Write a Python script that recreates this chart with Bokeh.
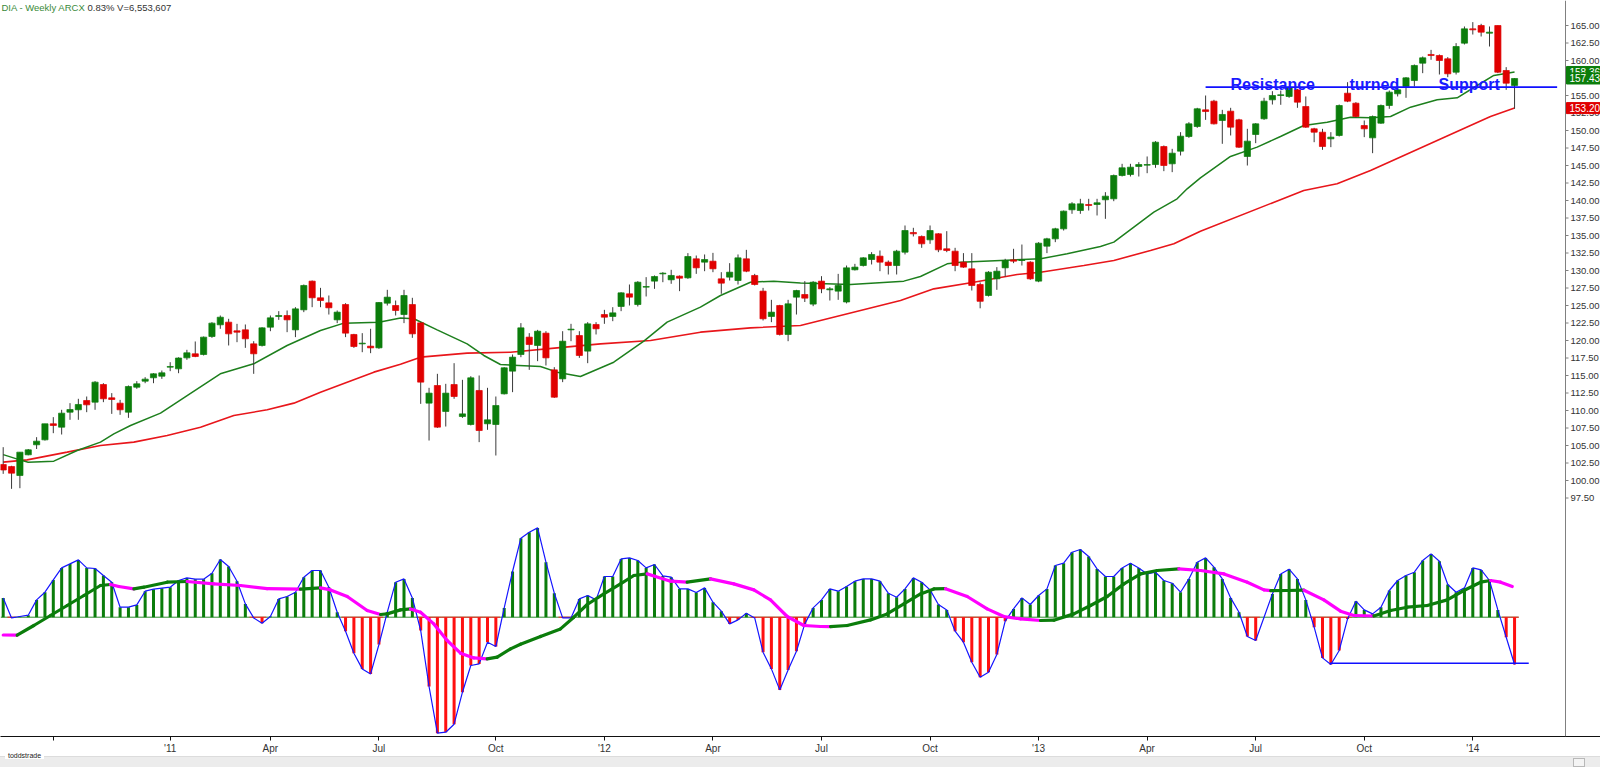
from bokeh.plotting import figure
from bokeh.layouts import column
from bokeh.models import Range1d, FixedTicker, ColumnDataSource, Span, Div
from bokeh.embed import file_html
from bokeh.resources import INLINE
from bokeh.core.properties import value

# ---------------- weekly DIA candles ----------------
opens = [102.29, 101.99, 100.71, 103.67, 105.1, 105.81, 108.1, 107.62, 109.76, 110.1,
         111.43, 111.19, 113.71, 111.81, 111.05, 109.76, 113.33, 114.19, 114.67, 114.9,
         116.19, 115.95, 117.52, 118.1, 118.0, 120.57, 122.24, 122.62, 121.38, 121.52,
         119.52, 119.29, 121.9, 123.43, 123.57, 121.52, 124.38, 128.48, 126.1, 125.38,
         122.95, 125.14, 120.86, 119.52, 119.19, 118.95, 125.33, 125.0, 123.71, 125.14,
         122.52, 111.05, 113.57, 109.86, 113.71, 109.14, 108.0, 112.86, 108.1, 108.0,
         112.38, 115.62, 118.0, 120.48, 119.29, 121.05, 115.81, 114.52, 121.52, 120.71,
         118.48, 122.29, 123.71, 123.43, 124.86, 126.67, 125.14, 127.62, 128.48, 129.52,
         128.67, 129.19, 128.95, 131.67, 131.19, 131.33, 128.81, 129.05, 128.57, 131.67,
         129.29, 127.05, 123.43, 125.0, 120.86, 126.19, 126.57, 125.2, 128.48, 127.24,
         127.05, 125.5, 130.1, 130.71, 131.57, 132.05, 131.19, 130.71, 132.62, 135.43,
         134.86, 134.38, 135.24, 133.1, 132.76, 131.19, 130.24, 128.0, 126.43, 128.81,
         130.38, 131.52, 131.43, 131.19, 128.48, 133.48, 134.52, 135.95, 138.67, 138.57,
         139.43, 139.43, 140.1, 140.24, 143.57, 143.71, 144.86, 145.05, 145.14, 147.71,
         145.24, 147.05, 149.14, 150.57, 152.95, 154.19, 151.43, 152.76, 151.52, 146.29,
         149.43, 151.67, 154.38, 155.0, 154.86, 155.81, 153.43, 150.24, 149.76, 148.81,
         149.29, 155.33, 153.9, 150.71, 148.95, 151.05, 153.57, 155.24, 156.29, 157.14,
         159.62, 160.86, 160.71, 160.24, 158.33, 162.48, 164.52, 165.0, 163.9, 165.0,
         158.57, 156.43]
highs = [104.76, 102.1, 104.05, 104.5, 106.19, 108.1, 109.05, 110.1, 111.05, 111.67,
         112.0, 114.2, 113.9, 112.48, 111.52, 113.57, 114.19, 114.76, 115.33, 115.71,
         116.9, 117.6, 118.67, 119.86, 120.57, 122.62, 123.57, 123.1, 122.38, 122.29,
         119.9, 121.9, 123.57, 124.19, 124.29, 124.76, 128.0, 128.57, 127.52, 126.43,
         124.29, 125.33, 120.95, 121.05, 121.67, 125.48, 127.24, 125.71, 127.24, 126.1,
         122.62, 113.24, 115.24, 113.81, 116.76, 114.38, 114.9, 115.0, 113.24, 112.0,
         116.19, 118.0, 122.48, 121.05, 121.52, 121.33, 116.19, 121.33, 122.38, 121.33,
         122.62, 122.62, 124.38, 124.76, 126.9, 128.0, 128.48, 129.05, 129.29, 129.76,
         130.1, 129.29, 132.48, 132.14, 132.29, 132.52, 129.76, 131.05, 132.29, 132.95,
         129.52, 127.52, 125.81, 125.1, 125.81, 127.24, 128.48, 128.48, 129.19, 127.62,
         129.52, 130.71, 130.95, 131.9, 132.62, 132.86, 131.43, 132.95, 136.43, 136.1,
         135.0, 136.43, 135.33, 135.62, 133.24, 132.48, 132.48, 128.3, 129.9, 130.48,
         131.67, 133.1, 133.71, 131.33, 134.05, 134.67, 136.1, 138.57, 139.76, 140.24,
         140.24, 140.24, 141.19, 143.71, 145.24, 145.24, 145.48, 146.29, 148.48, 147.86,
         147.38, 149.76, 151.19, 153.24, 155.0, 154.38, 152.95, 153.24, 151.67, 150.24,
         151.05, 154.67, 155.62, 155.71, 156.29, 155.95, 154.86, 150.38, 150.24, 149.76,
         153.71, 156.9, 154.05, 151.43, 152.14, 153.71, 155.71, 156.1, 157.62, 159.43,
         160.57, 161.52, 160.86, 160.48, 162.48, 164.86, 165.48, 165.24, 164.86, 165.0,
         159.05, 157.48]
lows = [100.95, 98.81, 98.9, 103.6, 104.5, 105.7, 106.76, 106.57, 108.67, 108.67,
        109.76, 110.1, 111.19, 109.52, 109.38, 108.95, 113.1, 113.9, 113.9, 114.52,
        115.62, 115.33, 117.24, 117.62, 117.86, 120.38, 121.67, 119.29, 119.76, 118.95,
        115.24, 119.14, 121.33, 122.95, 121.19, 120.48, 124.05, 124.76, 124.76, 123.71,
        122.48, 120.48, 118.95, 118.33, 118.19, 118.81, 125.0, 123.57, 122.48, 120.38,
        110.95, 105.71, 107.52, 107.71, 111.67, 108.95, 107.86, 105.48, 107.24, 103.57,
        112.29, 112.62, 117.62, 115.81, 117.05, 116.43, 111.81, 114.05, 119.9, 117.52,
        116.76, 120.86, 122.38, 122.76, 124.19, 125.0, 124.86, 126.29, 127.38, 128.33,
        128.1, 127.05, 128.81, 129.52, 129.9, 129.76, 126.67, 128.57, 128.0, 129.76,
        127.86, 122.86, 122.62, 120.71, 119.9, 123.71, 125.5, 124.9, 126.76, 125.71,
        125.81, 125.3, 130.0, 130.57, 130.86, 129.9, 129.43, 129.43, 132.29, 134.86,
        133.24, 133.81, 132.62, 132.62, 129.9, 130.38, 127.14, 124.6, 126.29, 127.24,
        129.14, 131.05, 130.71, 128.67, 128.33, 132.48, 134.05, 135.71, 138.1, 138.1,
        138.57, 137.86, 137.38, 139.9, 143.43, 143.43, 143.43, 143.9, 144.67, 144.19,
        144.05, 146.43, 148.95, 150.38, 151.52, 150.86, 148.1, 149.29, 147.52, 145.0,
        148.19, 151.52, 153.71, 153.67, 154.67, 153.24, 150.38, 148.33, 147.24, 147.62,
        149.14, 154.05, 151.81, 149.05, 146.76, 150.95, 153.1, 154.86, 154.67, 156.29,
        158.19, 160.1, 158.0, 157.62, 158.0, 162.29, 163.71, 163.43, 162.0, 158.19,
        155.81, 153.1]
closes = [101.5, 101.05, 104.05, 104.38, 105.62, 108.1, 107.86, 109.62, 110.14, 110.86,
          110.81, 114.05, 111.67, 111.57, 110.1, 113.43, 113.81, 114.48, 115.24, 115.38,
          116.29, 117.5, 118.24, 117.71, 120.48, 122.48, 123.33, 120.95, 121.19, 120.24,
          118.1, 121.81, 123.24, 123.57, 122.95, 124.52, 127.86, 126.1, 125.71, 124.67,
          124.05, 121.05, 119.14, 119.62, 118.95, 125.43, 126.19, 124.29, 126.43, 120.95,
          114.05, 112.48, 107.62, 112.48, 112.0, 109.52, 114.67, 107.14, 108.67, 110.71,
          116.1, 117.62, 121.81, 119.43, 121.33, 117.52, 111.9, 119.9, 121.62, 117.86,
          122.38, 121.67, 123.33, 123.95, 126.81, 126.19, 128.33, 127.71, 129.14, 129.62,
          129.29, 128.9, 132.0, 130.38, 131.57, 130.24, 128.19, 129.76, 131.81, 129.9,
          128.0, 123.1, 124.05, 120.86, 125.24, 127.14, 126.05, 128.33, 127.38, 127.38,
          127.86, 130.38, 130.48, 131.81, 132.29, 131.19, 130.71, 132.76, 135.71, 135.24,
          133.81, 135.71, 132.95, 132.86, 130.71, 130.48, 127.86, 125.6, 129.76, 129.9,
          131.43, 131.33, 131.52, 128.81, 133.9, 134.52, 135.95, 138.48, 139.52, 139.52,
          139.29, 139.67, 140.62, 143.57, 144.67, 144.76, 145.14, 145.14, 148.33, 145.0,
          146.76, 149.19, 150.95, 153.1, 152.71, 150.95, 152.29, 150.48, 147.62, 148.48,
          150.95, 154.19, 155.0, 155.1, 156.1, 154.05, 150.48, 149.76, 147.71, 149.05,
          153.57, 154.19, 152.0, 150.24, 152.0, 153.57, 155.48, 155.81, 157.52, 159.29,
          160.38, 160.71, 160.0, 158.1, 162.0, 164.52, 164.38, 164.05, 164.05, 158.33,
          156.76, 157.43]

# moving averages (vertices; x = week index)
ma20_x = [0.0, 1.99, 2.99, 6.06, 8.86, 11.65, 13.25, 15.25, 18.84, 22.03,
          26.0, 30.0, 34.0, 38.0, 40.8, 45.0, 47.58, 49.18, 51.97, 55.56,
          57.56, 59.55, 64.34, 66.34, 69.13, 73.12, 76.72, 79.51, 83.5, 85.9,
          89.49, 92.28, 95.48, 101.47, 107.86, 109.85, 113.05, 114.65, 119.44, 124.23,
          127.42, 131.41, 133.01, 137.8, 140.59, 141.79, 143.38, 146.98, 150.17, 152.97,
          155.76, 158.56, 161.35, 163.75, 166.15, 168.54, 171.73, 174.13, 176.52, 178.52,
          181.0]
ma20_v = [103.7, 102.95, 102.62, 102.76, 104.29, 105.48, 106.67, 107.86, 109.62, 112.14,
          115.24, 116.67, 119.29, 121.43, 122.48, 122.62, 123.2, 123.1, 121.52, 119.52,
          117.86, 116.57, 116.29, 115.48, 114.86, 116.9, 119.9, 122.62, 124.76, 126.43,
          128.33, 128.48, 128.2, 128.0, 128.48, 129.14, 130.95, 131.19, 131.43, 131.67,
          132.38, 133.43, 134.05, 138.33, 140.24, 141.67, 143.24, 146.29, 147.62, 149.14,
          150.71, 151.19, 151.9, 151.81, 152.0, 153.33, 154.38, 154.67, 156.43, 157.86,
          158.36]
ma50_x = [0.0, 2.87, 7.66, 11.65, 15.64, 19.64, 23.63, 27.62, 31.62, 34.81,
          38.0, 41.19, 44.39, 47.58, 49.98, 55.56, 60.75, 66.34, 71.53, 77.52,
          83.5, 89.49, 95.48, 107.46, 111.45, 116.24, 121.43, 124.23, 129.42, 133.01,
          137.4, 140.2, 143.38, 155.76, 159.75, 163.75, 167.74, 171.73, 175.72, 178.12,
          181.0]
ma50_v = [102.62, 102.95, 104.05, 105.0, 105.48, 106.43, 107.62, 109.29, 110.1, 111.05,
          112.62, 114.05, 115.48, 116.6, 117.62, 118.19, 118.33, 118.95, 119.52, 120.0,
          121.19, 121.81, 122.14, 125.71, 127.38, 128.33, 129.43, 129.76, 130.71, 131.43,
          132.86, 133.81, 135.62, 141.43, 142.38, 144.29, 146.43, 148.57, 150.71, 152.0,
          153.2]

# lower oscillator: histogram (one per week) and smoothed signal line
osc_hist = [1.93, -0.07, 0.07, 0.2, 1.73, 2.5, 3.73, 4.93, 5.33, 5.73,
            4.93, 4.87, 4.17, 3.5, 1.0, 1.0, 1.23, 2.6, 2.8, 2.9,
            3.0, 3.67, 3.93, 3.8, 3.8, 4.4, 5.77, 5.07, 3.6, 1.33,
            -0.07, -0.6, 0.07, 1.83, 2.07, 2.5, 4.0, 4.67, 4.67, 3.0,
            0.5, -1.4, -3.6, -5.17, -5.67, -2.73, 0.5, 3.5, 3.83, 1.93,
            -1.33, -6.93, -11.6, -11.5, -10.7, -7.5, -4.83, -4.67, -2.5, -2.93,
            0.93, 4.57, 7.9, 8.5, 8.93, 5.5, 2.4, -0.07, -0.07, 1.83,
            2.17, 1.73, 4.07, 4.07, 5.83, 5.93, 5.67, 4.93, 5.27, 4.13,
            4.0, 2.83, 2.83, 2.47, 2.93, 1.5, 0.6, -0.67, -0.27, 0.4,
            -0.07, -3.5, -5.17, -7.27, -5.27, -3.4, -0.67, 0.93, 1.73, 2.83,
            2.6, 3.07, 3.6, 3.83, 3.83, 3.6, 2.4, 2.0, 2.83, 3.93,
            3.5, 2.73, 1.27, 0.73, -1.4, -2.5, -4.5, -6.0, -5.5, -3.73,
            -0.4, 0.83, 1.93, 1.27, 2.17, 2.83, 5.17, 5.4, 6.5, 6.77,
            6.07, 4.83, 4.07, 4.07, 4.93, 5.4, 4.93, 4.33, 4.5, 3.67,
            3.4, 2.5, 3.83, 5.5, 5.93, 5.0, 3.83, 1.93, 0.5, -1.93,
            -2.33, 0.0, 2.33, 4.33, 4.8, 3.83, 1.73, -1.0, -4.07, -4.73,
            -3.33, -0.17, 1.6, 0.73, 0.33, 1.0, 2.67, 3.67, 4.17, 4.5,
            5.67, 6.33, 5.6, 3.27, 2.5, 2.93, 4.93, 4.73, 3.67, 0.73,
            -2.0, -4.73]
sig_x = [0.0, 1.67, 3.67, 5.66, 7.66, 9.66, 11.65, 12.85, 13.85, 15.65,
         16.84, 19.64, 22.03, 25.22, 28.42, 31.61, 35.6, 38.0, 39.2, 41.2,
         43.59, 45.19, 45.98, 47.58, 48.78, 49.98, 51.57, 53.17, 54.77, 56.37,
         57.96, 59.16, 60.76, 61.95, 64.35, 66.74, 68.34, 69.94, 71.93, 73.93,
         75.53, 77.12, 78.12, 79.92, 81.91, 84.71, 87.5, 89.9, 91.89, 93.89,
         95.88, 97.88, 99.08, 101.07, 103.87, 105.86, 107.86, 109.86, 111.46, 112.85,
         115.45, 117.84, 119.84, 121.83, 124.23, 125.83, 128.22, 130.22, 132.22, 134.22,
         136.22, 138.2, 140.8, 143.4, 146.2, 148.99, 150.99, 151.8, 153.78, 155.78,
         158.16, 160.16, 161.76, 164.16, 166.15, 168.15, 170.54, 172.94, 174.93, 176.93,
         178.13, 179.33, 180.73]
sig_v = [-1.78, -1.8, -0.83, 0.17, 1.17, 2.17, 3.17, 3.27, 3.07, 2.83,
         3.0, 3.5, 3.57, 3.33, 3.17, 2.85, 2.8, 2.93, 2.73, 2.07,
         0.67, 0.27, 0.33, 0.73, 0.83, 0.5, -0.67, -2.33, -3.6, -4.07,
         -4.17, -4.0, -3.17, -2.7, -1.93, -1.17, 0.0, 1.27, 2.33, 3.33,
         4.17, 4.33, 4.07, 3.6, 3.5, 3.83, 3.33, 2.73, 1.73, 0.07,
         -0.83, -0.93, -0.95, -0.83, -0.27, 0.33, 1.33, 2.33, 2.83, 2.85,
         2.07, 0.83, 0.07, -0.17, -0.33, -0.3, 0.33, 1.17, 2.07, 3.33,
         4.33, 4.67, 4.83, 4.67, 4.33, 3.5, 2.73, 2.65, 2.67, 2.7,
         1.73, 0.6, 0.17, 0.12, 0.67, 1.0, 1.17, 1.73, 2.67, 3.5,
         3.67, 3.5, 3.07]

# drawn annotations
resist_x = [144.0, 186.1]
resist_y = [156.19, 156.19]
resist_text = ["Resistance", "turned", "Support"]
resist_text_x = [146.98, 161.23, 171.9]
support_x = [158.9, 182.7]
support_y = [-4.6, -4.6]

# axes
tick_idx = [6, 20, 32, 45, 59, 72, 85, 98, 111, 124, 137, 150, 163, 176]
tick_lab = ["", "'11", "Apr", "Jul", "Oct", "'12", "Apr", "Jul", "Oct", "'13", "Apr", "Jul", "Oct", "'14"]
price_ticks = [97.5 + 2.5 * k for k in range(28)]
last_close = 157.43
last_ma20 = 158.36
last_ma50 = 153.20
header_left = "DIA - Weekly  ARCX"
header_right = "0.83%  V=6,553,607"

# ---------------- layout constants ----------------
FONT = "Liberation Sans"
FRAME_W, FRAME_H = 1600, 736
PXW = 8.35                      # pixels per week
X0 = -2.7 / PXW
X1 = X0 + FRAME_W / PXW
PPU = 7.0                       # pixels per price unit
Y_TOP = 165.0 + 25.0 / PPU
Y_BOT = Y_TOP - FRAME_H / PPU
OSC_PPU = 10.0
OSC_TOP = 616.7 / OSC_PPU
OSC_BOT = -(FRAME_H - 616.7) / OSC_PPU
px = 1.0 / PXW
AXIS_X = X0 + 1565 * px         # price scale column at the right edge

GREEN = "#0b7d0b"
RED = "#e00000"

p = figure(frame_width=FRAME_W, frame_height=FRAME_H,
           x_range=Range1d(X0, X1), y_range=Range1d(Y_BOT, Y_TOP),
           output_backend="svg", toolbar_location=None, y_axis_location=None,
           min_border_left=0, min_border_top=0, min_border_right=0, min_border_bottom=0,
           outline_line_color=None, background_fill_color="white", border_fill_color="white")
p.grid.visible = False
p.extra_y_ranges = {"osc": Range1d(OSC_BOT, OSC_TOP)}

# x axis
xa = p.xaxis[0]
xa.ticker = FixedTicker(ticks=tick_idx)
xa.major_label_overrides = {t: l for t, l in zip(tick_idx, tick_lab)}
xa.minor_tick_line_color = None
xa.major_tick_in = 0
xa.major_tick_out = 4
xa.axis_line_color = "#111111"
xa.major_tick_line_color = "#111111"
xa.major_label_text_font = FONT
xa.major_label_text_font_size = "10px"
xa.major_label_text_color = "#333333"
xa.major_label_standoff = 2

# ---------------- upper panel ----------------
n = len(closes)
idx = list(range(n))
p.line(ma50_x, ma50_v, line_color="#e8161b", line_width=1.6)
p.line(ma20_x, ma20_v, line_color="#1d7f1d", line_width=1.5)

src = ColumnDataSource(dict(
    x=idx, h=highs, l=lows,
    top=[max(o, c) for o, c in zip(opens, closes)],
    bottom=[min(o, c) for o, c in zip(opens, closes)],
    color=[GREEN if c >= o else RED for o, c in zip(opens, closes)],
))
p.segment(x0="x", y0="l", x1="x", y1="h", source=src, line_color="#3a3a3a", line_width=1)
p.vbar(x="x", width=0.74, top="top", bottom="bottom", source=src,
       fill_color="color", line_color="color", line_width=0.7)

p.line(resist_x, resist_y, line_color="#1010ff", line_width=1.6)
p.text(x=resist_text_x, y=[resist_y[0] + 0.35] * 3, text=resist_text,
       text_font=value(FONT), text_font_style="bold", text_font_size="16px",
       text_color="#1a1aff", text_baseline="alphabetic", text_align="left")

# ---------------- lower oscillator panel ----------------
p.segment(x0=[X0], y0=[0], x1=[idx[-1] + 0.5], y1=[0], y_range_name="osc",
          line_color="#2e8b2e", line_width=1)
neg = [i for i, v in zip(idx, osc_hist) if v < 0]
p.segment(x0=[i - 0.5 for i in neg], y0=[0] * len(neg), x1=[i + 0.5 for i in neg], y1=[0] * len(neg),
          y_range_name="osc", line_color="#ff2020", line_width=1)
hsrc = ColumnDataSource(dict(
    x=idx,
    top=[max(v, 0) for v in osc_hist],
    bottom=[min(v, 0) for v in osc_hist],
    color=[GREEN if v >= 0 else "#ff1010" for v in osc_hist],
))
p.vbar(x="x", width=0.36, top="top", bottom="bottom", source=hsrc, y_range_name="osc",
       fill_color="color", line_color=None)
p.line(idx, osc_hist, y_range_name="osc", line_color="#1515ff", line_width=1.2)

seg_col = ["#0b7d0b" if b > a else "#ff00ff" for a, b in zip(sig_v[:-1], sig_v[1:])]
p.segment(x0=sig_x[:-1], y0=sig_v[:-1], x1=sig_x[1:], y1=sig_v[1:], y_range_name="osc",
          line_color=seg_col, line_width=3.2, line_cap="round")
p.line(support_x, support_y, y_range_name="osc", line_color="#1010ff", line_width=1.5)

# ---------------- header ----------------
p.text(x=[X0 + 1 * px], y=[Y_TOP - 7 / PPU], text=[header_left], text_font=value(FONT),
       text_font_size="9.5px", text_color="#3a8a3a", text_baseline="middle")
p.text(x=[X0 + 87 * px], y=[Y_TOP - 7 / PPU], text=[header_right], text_font=value(FONT),
       text_font_size="9.5px", text_color="#333333", text_baseline="middle")

# ---------------- price scale at the right edge ----------------
p.add_layout(Span(location=AXIS_X, dimension="height", line_color="#808080", line_width=1))
p.segment(x0=[AXIS_X] * len(price_ticks), y0=price_ticks, x1=[AXIS_X + 3 * px] * len(price_ticks),
          y1=price_ticks, line_color="#808080", line_width=1)
p.text(x=[AXIS_X + 5 * px] * len(price_ticks), y=price_ticks,
       text=[f"{t:.2f}" for t in price_ticks], text_font=value(FONT), text_font_size="9.5px",
       text_color="#333333", text_baseline="middle", text_align="left")

box_vals = [last_ma20, last_close, last_ma50]
box_cols = ["#0b7d0b", "#0b7d0b", "#e00000"]
for val, col in zip(box_vals, box_cols):
    p.rect(x=[AXIS_X + 18 * px], y=[val], width=34 * px, height=11 / PPU,
           fill_color=col, line_color=col)
    p.text(x=[AXIS_X + 4 * px], y=[val], text=[f"{val:.2f}"], text_font=value(FONT),
           text_font_size="10px", text_color="white", text_baseline="middle", text_align="left")

# ---------------- bottom strip (logo + scroll bar) ----------------
strip = Div(width=1600, height=12,
            text='<div style="position:relative;width:1600px;height:12px;background:#ececec;'
                 'border-top:1px solid #dcdcdc;">'
                 '<span style="position:absolute;left:5px;top:-5px;background:white;padding:0 3px;'
                 'font:7px \'Liberation Sans\';color:#222;">toddstrade</span>'
                 '<span style="position:absolute;left:1573px;top:1px;width:12px;height:9px;'
                 'background:#f4f4f4;border:1px solid #b8b8b8;"></span></div>',
            styles={"margin": "0", "padding": "0"})

open("out.html", "w").write(file_html(column(p, strip), INLINE, title="DIA - Weekly"))
